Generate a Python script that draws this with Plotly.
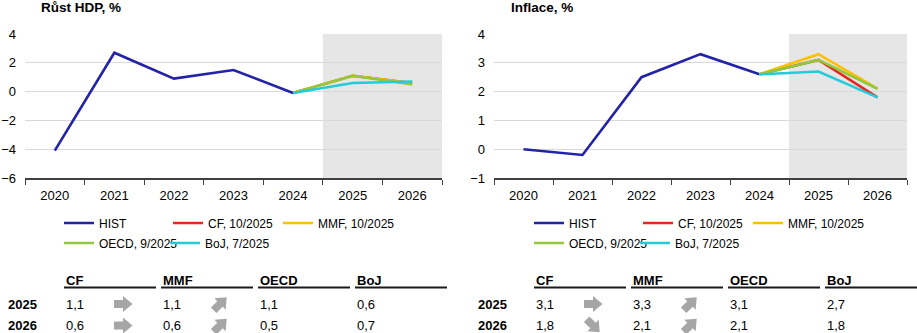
import math
import plotly.graph_objects as go

# ---------------- data ----------------
years = ["2020", "2021", "2022", "2023", "2024", "2025", "2026"]
hist_years = years[:5]
fc_years = years[5:]

gdp_hist = [-4.1, 2.7, 0.9, 1.5, -0.1]
gdp_cf = [1.1, 0.6]
gdp_mmf = [1.1, 0.6]
gdp_oecd = [1.1, 0.5]
gdp_boj = [0.6, 0.7]

infl_hist = [0.0, -0.2, 2.5, 3.3, 2.6]
infl_cf = [3.1, 1.8]
infl_mmf = [3.3, 2.1]
infl_oecd = [3.1, 2.1]
infl_boj = [2.7, 1.8]

# revision direction vs. previous forecast (shown as arrows in the table)
gdp_cf_rev = ["right", "right"]
gdp_mmf_rev = ["up", "up"]
infl_cf_rev = ["right", "down"]
infl_mmf_rev = ["up", "up"]

series_names = ["HIST", "CF, 10/2025", "MMF, 10/2025", "OECD, 9/2025", "BoJ, 7/2025"]
table_heads = ["CF", "MMF", "OECD", "BoJ"]
colors = ["#2323A8", "#E8281E", "#FFC000", "#92C83E", "#22CCD8"]

W, H = 917, 333
FONT = "Liberation Sans, Arial, sans-serif"


def X(px):
    return px / W


def Y(py):
    return 1 - py / H


fig = go.Figure()

panels = [
    dict(hist=gdp_hist, fc=[gdp_cf, gdp_mmf, gdp_oecd, gdp_boj], xa="x", ya="y",
         title="Růst HDP, %", tx=39, rev=[gdp_cf_rev, gdp_mmf_rev], lx=64, rx=6),
    dict(hist=infl_hist, fc=[infl_cf, infl_mmf, infl_oecd, infl_boj], xa="x2", ya="y2",
         title="Inflace, %", tx=509, rev=[infl_cf_rev, infl_mmf_rev], lx=534, rx=476),
]

# legend entry placement (offset of symbol start from panel legend origin, row)
leg_offsets = [(0, 223), (109, 223), (219, 223), (0, 243), (106, 243)]

annotations = []
shapes = []
legends = {}
leg_count = 0

leg_common = dict(orientation="h", xanchor="left", yanchor="middle", itemwidth=30,
                  bgcolor="rgba(0,0,0,0)", borderwidth=0, visible=True,
                  font=dict(size=12, color="#000", family=FONT),
                  itemclick=False, itemdoubleclick=False)

for p in panels:
    leg_ids = []
    for i in range(5):
        leg_count += 1
        lid = "legend" if leg_count == 1 else f"legend{leg_count}"
        ox, oy = leg_offsets[i]
        legends[lid] = dict(leg_common, x=X(p["lx"] - 5 + ox), y=Y(oy))
        leg_ids.append(lid)

    fig.add_trace(go.Scatter(x=hist_years, y=p["hist"], mode="lines", name=series_names[0],
                             line=dict(color=colors[0], width=2.6), showlegend=True,
                             xaxis=p["xa"], yaxis=p["ya"], legend=leg_ids[0]))
    for i, vals in enumerate(p["fc"]):
        fig.add_trace(go.Scatter(x=[hist_years[-1]] + fc_years, y=[p["hist"][-1]] + vals,
                                 mode="lines", name=series_names[i + 1], showlegend=True,
                                 line=dict(color=colors[i + 1], width=2.6),
                                 xaxis=p["xa"], yaxis=p["ya"], legend=leg_ids[i + 1]))
    # title
    annotations.append(dict(text="<b>" + p["title"] + "</b>", x=X(p["tx"]), y=Y(7.5),
                            xref="paper", yref="paper", xanchor="left", yanchor="middle",
                            showarrow=False, font=dict(size=13.5, color="#000", family=FONT)))
    # forecast shading
    shapes.append(dict(type="rect", xref=p["xa"], yref=p["ya"] + " domain", x0=4.5, x1=6.5,
                       y0=0, y1=1, fillcolor="#E6E6E6", line=dict(width=0), layer="below"))
    # table
    col_x = [p["lx"] + k * 97 for k in range(4)]
    for k, head in enumerate(table_heads):
        annotations.append(dict(text="<b>" + head + "</b>", x=X(col_x[k]), y=Y(280),
                                xref="paper", yref="paper", xanchor="left", yanchor="middle",
                                showarrow=False, font=dict(size=13, color="#000", family=FONT)))
        shapes.append(dict(type="line", xref="paper", yref="paper", x0=X(col_x[k]),
                           x1=X(min(col_x[k] + 92, W)), y0=Y(287.5), y1=Y(287.5),
                           line=dict(color="#1A1A1A", width=2)))
    row_y = [304, 325.5]
    for r, yr in enumerate(fc_years):
        annotations.append(dict(text="<b>" + yr + "</b>", x=X(p["rx"]), y=Y(row_y[r]),
                                xref="paper", yref="paper", xanchor="left", yanchor="middle",
                                showarrow=False, font=dict(size=13, color="#000", family=FONT)))
        for k, vals in enumerate(p["fc"]):
            annotations.append(dict(text=f"{vals[r]:.1f}".replace(".", ","), x=X(col_x[k]),
                                    y=Y(row_y[r]), xref="paper", yref="paper",
                                    xanchor="left", yanchor="middle", showarrow=False,
                                    font=dict(size=13, color="#000", family=FONT)))
        # arrows for CF and MMF
        for k in range(2):
            d = p["rev"][k][r]
            ang = {"right": 0.0, "up": 45.0, "down": -45.0}[d] * math.pi / 180
            cx, cy = col_x[k] + 59, row_y[r]
            pts = [(-9, -3.9), (0, -3.9), (0, -8), (9.5, 0), (0, 8), (0, 3.9), (-9, 3.9)]
            path = ""
            for j, (ax, ay) in enumerate(pts):
                rx_ = ax * math.cos(ang) - ay * math.sin(ang)
                ry_ = ax * math.sin(ang) + ay * math.cos(ang)
                path += ("M" if j == 0 else "L") + f"{X(cx + rx_):.5f},{Y(cy - ry_):.5f}"
            path += "Z"
            shapes.append(dict(type="path", xref="paper", yref="paper", path=path,
                               fillcolor="#A6A6A6", line=dict(width=0)))

axis_common_x = dict(type="category", categoryorder="array", categoryarray=years,
                     range=[-0.5, 6.5], tickson="boundaries", ticks="outside", ticklen=5,
                     tickwidth=1.3, tickcolor="#404040", showline=True, linecolor="#404040",
                     linewidth=1.6, showgrid=False, zeroline=False, automargin=False,
                     ticklabelstandoff=5,
                     tickfont=dict(size=13, color="#000", family=FONT), fixedrange=True)
axis_common_y = dict(showgrid=True, gridcolor="#D9D9D9", gridwidth=1.3, zeroline=False,
                     showline=False, ticks="", ticklabelstandoff=8, automargin=False,
                     tickfont=dict(size=13, color="#000", family=FONT), fixedrange=True)

ydom = [Y(178), Y(34)]
fig.update_layout(
    width=W, height=H, margin=dict(l=0, r=0, t=0, b=0, autoexpand=False),
    paper_bgcolor="white", plot_bgcolor="white", showlegend=True,
    font=dict(family=FONT, color="#000"),
    xaxis=dict(axis_common_x, domain=[X(25), X(442)], anchor="y"),
    yaxis=dict(axis_common_y, domain=ydom, range=[-6, 4], dtick=2, anchor="x"),
    xaxis2=dict(axis_common_x, domain=[X(494), X(907)], anchor="y2"),
    yaxis2=dict(axis_common_y, domain=ydom, range=[-1, 4], dtick=1, anchor="x2"),
    annotations=annotations,
    shapes=shapes,
)
fig.update_layout(**legends)

fig.write_html("out.html")
